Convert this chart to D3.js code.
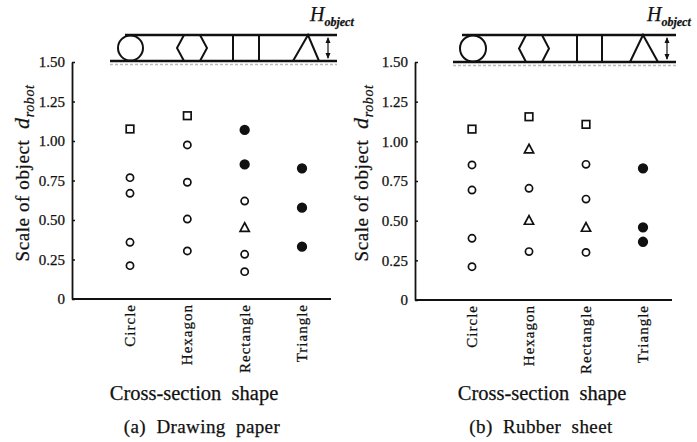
<!DOCTYPE html>
<html><head><meta charset="utf-8">
<script src="https://cdn.jsdelivr.net/npm/d3@7"></script>
<style>
body{margin:0;background:#fff}
svg{display:block}
text{font-family:"Liberation Serif","Times New Roman",serif;fill:#111;stroke:#111;stroke-width:0.25px;white-space:pre}
</style>
</head><body><svg id="c" width="697" height="442"></svg>
<script>
const categories = ["Circle","Hexagon","Rectangle","Triangle"];
const yTicks = [0,0.25,0.5,0.75,1.0,1.25,1.5];
const yTickLabels = ["0","0.25","0.50","0.75","1.00","1.25","1.50"];
const panelTitles = ["(a)  Drawing  paper","(b)  Rubber  sheet"];
const xAxisTitle = "Cross-section  shape";

// (a) Drawing paper
const paperSquare = [["Circle",1.076],["Hexagon",1.16]];
const paperCircle = [["Circle",0.768],["Circle",0.669],["Circle",0.359],["Circle",0.211],
  ["Hexagon",0.975],["Hexagon",0.739],["Hexagon",0.506],["Hexagon",0.304],
  ["Rectangle",0.62],["Rectangle",0.283],["Rectangle",0.173]];
const paperTriangle = [["Rectangle",0.451]];
const paperFilled = [["Rectangle",1.07],["Rectangle",0.852],["Triangle",0.827],["Triangle",0.578],["Triangle",0.331]];

// (b) Rubber sheet
const rubberSquare = [["Circle",1.077],["Hexagon",1.155],["Rectangle",1.107]];
const rubberCircle = [["Circle",0.851],["Circle",0.693],["Circle",0.389],["Circle",0.21],
  ["Hexagon",0.704],["Hexagon",0.305],["Rectangle",0.855],["Rectangle",0.636],["Rectangle",0.30]];
const rubberTriangle = [["Hexagon",0.95],["Hexagon",0.5],["Rectangle",0.456]];
const rubberFilled = [["Triangle",0.83],["Triangle",0.458],["Triangle",0.367]];

const svg = d3.select("#c");

const panels = [
  {ax:72, x1:331, y0:299, yTop:62, cr:[130,302], title:panelTitles[0], titleX:202, xtX:194, labX:29,
   sq:paperSquare, ci:paperCircle, tr:paperTriangle, fi:paperFilled,
   dg:{l0:125,l1:337,b0:110,top:35,bot:61,circ:130.5,hex:192,sq:[233,259],tri:[293,308,319],arrow:328,hX:310}},
  {ax:415, x1:672, y0:300, yTop:62, cr:[472,643], title:panelTitles[1], titleX:541, xtX:542, labX:368,
   sq:rubberSquare, ci:rubberCircle, tr:rubberTriangle, fi:rubberFilled,
   dg:{l0:462,l1:676,b0:453,top:35,bot:62,circ:473,hex:534,sq:[577,602],tri:[630,643,658],arrow:667,hX:647}}
];

panels.forEach(p => {
  const g = svg.append("g");
  const x = d3.scalePoint().domain(categories).range(p.cr);
  const y = d3.scaleLinear().domain([0,1.5]).range([p.y0,p.yTop]);

  // y axis
  const ya = d3.axisLeft(y).tickValues(yTicks).tickFormat((d,i)=>yTickLabels[i])
    .tickSizeInner(-3).tickSizeOuter(0).tickPadding(7);
  const yg = g.append("g").attr("transform",`translate(${p.ax},0)`).call(ya);
  yg.select(".domain").attr("stroke","#111").attr("stroke-width",1.8);
  yg.selectAll(".tick line").attr("stroke","#111").attr("stroke-width",1.5);
  yg.selectAll(".tick text").style("font-family","Liberation Serif").style("font-size","15px").attr("fill","#111");

  // x axis
  const xa = d3.axisBottom(x).tickSizeInner(0).tickSizeOuter(0).tickPadding(0);
  const xg = g.append("g").attr("transform",`translate(0,${p.y0})`).call(xa);
  xg.select(".domain").attr("d",`M${p.ax},0H${p.x1}`).attr("stroke","#111").attr("stroke-width",1.8);
  xg.selectAll(".tick text")
    .attr("transform","translate(4.5,5) rotate(-90)")
    .attr("x",0).attr("y",0).attr("dy",0)
    .attr("text-anchor","end")
    .style("font-family","Liberation Serif").style("font-size","15px")
    .style("letter-spacing","1px").attr("fill","#111");

  // y label
  const yl = g.append("text").attr("transform",`translate(${p.labX},173) rotate(-90)`)
    .attr("text-anchor","middle").style("font-size","19px").style("letter-spacing","0.6px");
  yl.append("tspan").text("Scale of object  ");
  yl.append("tspan").text("d").style("font-style","italic").style("font-size","22px");
  yl.append("tspan").text("robot").style("font-style","italic").style("font-size","14px").attr("dy",5);

  // x title and panel title
  g.append("text").attr("x",p.xtX).attr("y",400).attr("text-anchor","middle")
    .style("font-size","20.5px").text(xAxisTitle);
  g.append("text").attr("x",p.titleX).attr("y",433).attr("text-anchor","middle")
    .style("font-size","19px").style("letter-spacing","0.4px").text(p.title);

  // markers
  const mk = g.append("g").attr("stroke","#111").attr("stroke-width",1.7);
  mk.selectAll("circle.o").data(p.ci).join("circle").attr("class","o")
    .attr("cx",d=>x(d[0])).attr("cy",d=>y(d[1])).attr("r",3.6).attr("fill","#fff");
  mk.selectAll("rect.s").data(p.sq).join("rect").attr("class","s")
    .attr("x",d=>x(d[0])-3.8).attr("y",d=>y(d[1])-3.8).attr("width",7.6).attr("height",7.6).attr("fill","#fff");
  mk.selectAll("path.t").data(p.tr).join("path").attr("class","t")
    .attr("d",d=>{const cx=x(d[0]),cy=y(d[1]);return `M${cx},${cy-5}L${cx+4.6},${cy+3.6}L${cx-4.6},${cy+3.6}Z`;})
    .attr("fill","#fff");
  mk.selectAll("circle.f").data(p.fi).join("circle").attr("class","f")
    .attr("cx",d=>x(d[0])).attr("cy",d=>y(d[1])).attr("r",4.3).attr("fill","#111");

  // top diagram
  const dg = p.dg, d = g.append("g").attr("stroke","#111").attr("fill","none");
  d.append("line").attr("x1",dg.b0).attr("x2",dg.l1).attr("y1",dg.bot+3.5).attr("y2",dg.bot+3.5)
    .attr("stroke","#bbb").attr("stroke-width",1.5).attr("stroke-dasharray","3,2");
  d.append("line").attr("x1",dg.l0).attr("x2",dg.l1).attr("y1",dg.top).attr("y2",dg.top).attr("stroke-width",2.6);
  d.append("line").attr("x1",dg.b0).attr("x2",dg.l1).attr("y1",dg.bot).attr("y2",dg.bot).attr("stroke-width",2.6);
  const h = dg.bot-dg.top, cy = (dg.top+dg.bot)/2;
  d.append("circle").attr("cx",dg.circ).attr("cy",cy).attr("r",h/2-0.5).attr("stroke-width",2);
  d.append("path").attr("stroke-width",2)
    .attr("d",`M${dg.hex-15},${cy}L${dg.hex-8},${dg.top}L${dg.hex+8},${dg.top}L${dg.hex+15},${cy}L${dg.hex+8},${dg.bot}L${dg.hex-8},${dg.bot}Z`);
  d.append("rect").attr("x",dg.sq[0]).attr("y",dg.top).attr("width",dg.sq[1]-dg.sq[0]).attr("height",h).attr("stroke-width",2);
  d.append("path").attr("stroke-width",2)
    .attr("d",`M${dg.tri[0]},${dg.bot}L${dg.tri[1]},${dg.top}L${dg.tri[2]},${dg.bot}`);
  d.append("line").attr("x1",dg.arrow).attr("x2",dg.arrow).attr("y1",dg.top+3).attr("y2",dg.bot-3).attr("stroke-width",1.2);
  d.append("path").attr("fill","#111").attr("stroke","none")
    .attr("d",`M${dg.arrow},${dg.top+2}L${dg.arrow-2.5},${dg.top+8}L${dg.arrow+2.5},${dg.top+8}Z M${dg.arrow},${dg.bot-2}L${dg.arrow-2.5},${dg.bot-8}L${dg.arrow+2.5},${dg.bot-8}Z`);
  const ht = g.append("text").attr("x",dg.hX).attr("y",21);
  ht.append("tspan").text("H").style("font-style","italic").style("font-size","20px");
  ht.append("tspan").text("object").style("font-style","italic").style("font-weight","bold")
    .style("font-size","12px").attr("dy",5);
});
</script>
</body></html>
